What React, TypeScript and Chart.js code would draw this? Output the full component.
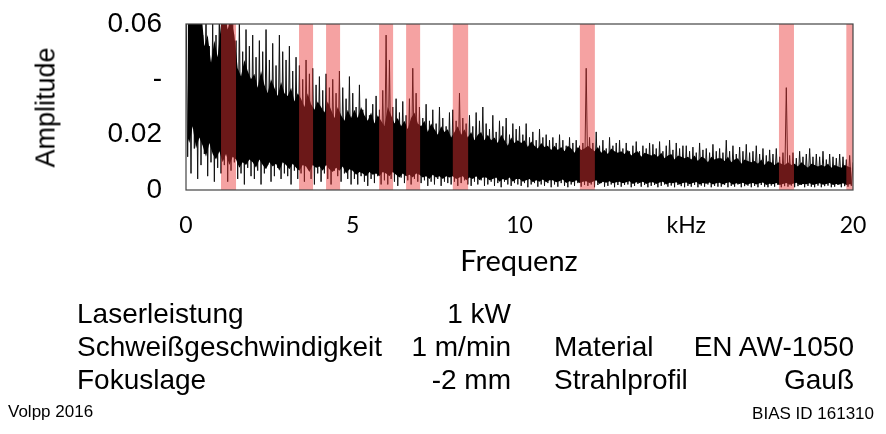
import React, { useEffect, useRef } from "react";
import { Chart, registerables } from "chart.js";

Chart.register(...registerables);

// ---------- data ----------
// axis ticks
const yTickValues = [0, 0.02, 0.04, 0.06];
const yTickLabels = ["0", "0.02", "-", "0.06"];
const xTickValues = [0, 5, 10, 15, 20];
const xTickLabels = ["0", "5", "10", "kHz", "20"];

const ampUnit = 1e-4; // all amplitude arrays below are in units of 1e-4
const sampleStepKHz = 0.1;

// upper spike tips, at k * 0.1 kHz, k = 0..200
const peakAmp = [
  720, 650, 700, 610, 680, 560, 640, 520, 600, 560,
  660, 580, 700, 600, 640, 540, 620, 500, 580, 520,
  560, 480, 540, 500, 580, 470, 530, 450, 560, 500,
  470, 520, 430, 480, 450, 400, 470, 420, 440, 380,
  410, 360, 420, 370, 400, 350, 430, 370, 330, 410,
  350, 300, 380, 290, 330, 270, 310, 340, 290, 360,
  560, 470, 300, 330, 280, 320, 270, 330, 440, 350,
  300, 260, 310, 250, 290, 240, 300, 260, 230, 280,
  290, 250, 350, 260, 240, 270, 230, 280, 250, 300,
  240, 220, 270, 210, 250, 230, 260, 200, 240, 220,
  230, 200, 240, 190, 210, 180, 220, 190, 200, 180,
  190, 170, 200, 180, 160, 190, 170, 180, 160, 170,
  440, 190, 170, 210, 160, 180, 150, 190, 160, 170,
  180, 150, 170, 140, 160, 175, 140, 160, 150, 170,
  165, 150, 175, 140, 160, 180, 145, 170, 150, 160,
  160, 140, 155, 135, 170, 145, 150, 135, 165, 140,
  150, 135, 180, 140, 160, 130, 155, 140, 165, 135,
  140, 160, 130, 150, 125, 145, 130, 150, 120, 135,
  370, 125, 135, 115, 140, 120, 130, 150, 120, 130,
  120, 140, 110, 130, 120, 115, 130, 120, 110, 125,
  100,
];
// lower spike tips, at k * 0.1 + 0.05 kHz, k = 0..199
const troughAmp = [
  120, 60, 150, 40, 90, 130, 50, 100, 30, 80,
  60, 90, 30, 70, 100, 40, 60, 20, 80, 50,
  40, 70, 20, 60, 90, 30, 50, 80, 40, 60,
  50, 20, 70, 40, 60, 30, 80, 40, 20, 60,
  30, 60, 40, 20, 70, 50, 30, 60, 40, 20,
  40, 20, 50, 30, 15, 40, 25, 50, 20, 35,
  20, 40, 30, 15, 45, 25, 35, 20, 40, 30,
  25, 35, 15, 30, 20, 40, 15, 30, 25, 20,
  30, 15, 25, 35, 20, 15, 30, 20, 35, 15,
  20, 30, 15, 25, 10, 30, 20, 15, 25, 20,
  15, 25, 10, 20, 25, 12, 20, 15, 25, 10,
  20, 12, 25, 15, 10, 20, 15, 25, 12, 18,
  15, 20, 10, 18, 25, 12, 15, 20, 10, 18,
  12, 18, 20, 10, 15, 22, 12, 18, 10, 15,
  18, 10, 15, 20, 12, 16, 10, 18, 14, 10,
  15, 12, 18, 10, 16, 12, 20, 10, 15, 12,
  12, 18, 10, 15, 12, 20, 10, 14, 16, 10,
  15, 10, 18, 12, 10, 16, 12, 18, 10, 14,
  12, 16, 10, 14, 18, 10, 15, 12, 10, 16,
  10, 14, 16, 10, 12, 18, 10, 14, 12, 15,
];

// dense (solid black) part: upper edge at k * 0.1 + 0.05 kHz, k = 0..199
const denseTop = [
  680, 640, 700, 620, 660, 520, 560, 460, 540, 480,
  600, 640, 580, 620, 560, 440, 410, 470, 430, 400,
  420, 370, 430, 380, 350, 400, 370, 340, 390, 350,
  340, 370, 320, 350, 330, 300, 350, 310, 290, 320,
  300, 280, 320, 290, 260, 300, 270, 250, 290, 260,
  290, 260, 300, 270, 250, 280, 240, 270, 250, 230,
  300, 270, 240, 260, 230, 250, 220, 260, 280, 240,
  230, 250, 210, 240, 220, 200, 230, 210, 220, 190,
  210, 230, 200, 220, 190, 210, 180, 200, 210, 180,
  200, 180, 190, 170, 200, 180, 160, 190, 170, 180,
  170, 180, 155, 175, 160, 150, 170, 155, 160, 145,
  160, 145, 155, 140, 160, 150, 135, 155, 145, 150,
  160, 150, 140, 155, 135, 145, 130, 150, 140, 135,
  140, 130, 145, 125, 135, 140, 120, 135, 130, 125,
  130, 120, 135, 115, 125, 130, 110, 125, 120, 115,
  120, 110, 125, 105, 120, 115, 100, 120, 110, 115,
  115, 105, 120, 100, 110, 115, 95, 110, 105, 100,
  105, 95, 110, 90, 105, 100, 90, 100, 95, 90,
  100, 90, 95, 85, 100, 90, 80, 95, 90, 85,
  90, 85, 95, 80, 90, 85, 80, 90, 85, 80,
];
// dense part: lower edge at k * 0.1 kHz, k = 0..200
const denseBottom = [
  210, 170, 230, 150, 190, 160, 120, 170, 130, 110,
  140, 100, 130, 90, 120, 110, 80, 100, 90, 110,
  100, 80, 110, 90, 75, 100, 85, 95, 70, 100,
  90, 75, 95, 80, 70, 90, 85, 65, 90, 80,
  85, 70, 90, 75, 65, 80, 70, 85, 60, 75,
  70, 55, 65, 60, 50, 65, 55, 60, 50, 65,
  60, 50, 65, 55, 45, 60, 50, 55, 45, 60,
  55, 45, 50, 40, 55, 45, 50, 40, 50, 45,
  50, 40, 45, 50, 35, 45, 40, 50, 35, 45,
  45, 35, 40, 45, 30, 40, 35, 45, 30, 40,
  40, 30, 35, 40, 28, 35, 30, 38, 28, 35,
  35, 28, 32, 38, 25, 32, 28, 35, 25, 30,
  32, 25, 30, 35, 22, 30, 26, 32, 24, 28,
  30, 24, 28, 32, 22, 28, 25, 30, 22, 27,
  28, 22, 27, 30, 20, 26, 24, 28, 20, 25,
  27, 21, 25, 29, 20, 25, 23, 27, 20, 24,
  26, 20, 25, 28, 19, 24, 22, 26, 19, 23,
  25, 20, 24, 27, 18, 23, 21, 25, 18, 22,
  25, 19, 23, 26, 18, 22, 21, 24, 18, 22,
  24, 19, 22, 25, 18, 22, 20, 24, 18, 21,
  20,
];

// highlighted frequency bands (kHz)
const bandStart = [1.05, 3.39, 4.2, 5.79, 6.6, 8.0, 11.81, 17.78, 19.8];
const bandEnd = [1.5, 3.81, 4.62, 6.21, 7.02, 8.46, 12.26, 18.23, 20.0];

// text block
const paramLabels = ["Laserleistung", "Schweißgeschwindigkeit", "Fokuslage"];
const paramValues = ["1 kW", "1 m/min", "-2 mm"];
const materialLabels = ["Material", "Strahlprofil"];
const materialValues = ["EN AW-1050", "Gauß"];
const yTitle = "Amplitude";
const xTitle = "Frequenz";
const sourceLeft = "Volpp 2016";
const sourceRight = "BIAS ID 161310";

// ---------- chart ----------
const W = 886;
const H = 434;
const ARIAL = "'Liberation Sans', Arial, sans-serif";
const CAL = "Lato, 'Liberation Sans', sans-serif";

function buildSpikes() {
  const pts: { x: number; y: number }[] = [];
  for (let k = 0; k < peakAmp.length; k++) {
    pts.push({ x: k * sampleStepKHz, y: peakAmp[k] * ampUnit });
    if (k < troughAmp.length) {
      pts.push({ x: k * sampleStepKHz + sampleStepKHz / 2, y: troughAmp[k] * ampUnit });
    }
  }
  return pts;
}

function buildSeries(arr: number[], offsetKHz: number) {
  return arr.map((v, k) => ({ x: k * sampleStepKHz + offsetKHz, y: v * ampUnit }));
}

const bandPlugin = {
  id: "bands",
  afterDatasetsDraw(chart: any) {
    const { ctx, chartArea, scales } = chart;
    const xs = scales.x;
    ctx.save();
    ctx.fillStyle = "rgba(233, 53, 53, 0.46)";
    for (let i = 0; i < bandStart.length; i++) {
      const x1 = xs.getPixelForValue(bandStart[i]);
      const x2 = xs.getPixelForValue(bandEnd[i]);
      ctx.fillRect(x1, chartArea.top, x2 - x1, chartArea.bottom - chartArea.top);
    }
    ctx.strokeStyle = "#444";
    ctx.lineWidth = 1.2;
    ctx.strokeRect(
      chartArea.left,
      chartArea.top,
      chartArea.right - chartArea.left,
      chartArea.bottom - chartArea.top
    );
    ctx.restore();
  },
};

function Txt(props: {
  left?: number;
  right?: number;
  top: number;
  size: number;
  family: string;
  children: React.ReactNode;
}) {
  const style: React.CSSProperties = {
    position: "absolute",
    top: props.top,
    fontSize: props.size,
    lineHeight: `${props.size}px`,
    fontFamily: props.family,
    color: "#000",
    whiteSpace: "nowrap",
  };
  if (props.left !== undefined) style.left = props.left;
  if (props.right !== undefined) style.right = W - props.right;
  return <div style={style}>{props.children}</div>;
}

export default function App() {
  const ref = useRef<HTMLCanvasElement>(null);

  useEffect(() => {
    if (!ref.current) return;
    const chart = new Chart(ref.current, {
      type: "line",
      data: {
        datasets: [
          {
            data: buildSeries(denseBottom, 0),
            borderWidth: 0,
            borderColor: "rgba(0,0,0,0)",
            pointRadius: 0,
            fill: false,
            clip: 0 as any,
          },
          {
            data: buildSeries(denseTop, sampleStepKHz / 2),
            borderWidth: 0,
            borderColor: "rgba(0,0,0,0)",
            backgroundColor: "#000",
            pointRadius: 0,
            fill: "-1",
            clip: 0 as any,
          },
          {
            data: buildSpikes(),
            borderColor: "#111",
            borderWidth: 1,
            pointRadius: 0,
            tension: 0,
            fill: false,
            clip: 0 as any,
          },
        ],
      },
      options: {
        responsive: false,
        animation: false,
        parsing: false as any,
        normalized: true,
        layout: { padding: { left: 0, right: 33, top: 24, bottom: 0 } },
        plugins: { legend: { display: false }, tooltip: { enabled: false } },
        scales: {
          x: {
            type: "linear",
            min: 0,
            max: 20,
            afterFit: (s: any) => {
              s.height = 244;
              s.paddingLeft = 0;
              s.paddingRight = 0;
            },
            afterBuildTicks: (s: any) => {
              s.ticks = xTickValues.map((v) => ({ value: v }));
            },
            grid: { display: false, drawTicks: false },
            border: { display: false },
            ticks: {
              autoSkip: false,
              maxRotation: 0,
              padding: 22,
              color: "#000",
              font: { family: CAL, size: 23 },
              callback: (_v: any, i: number) => xTickLabels[i],
            },
          },
          y: {
            type: "linear",
            min: 0,
            max: 0.06,
            afterFit: (s: any) => {
              s.width = 186;
              s.paddingTop = 0;
              s.paddingBottom = 0;
            },
            afterBuildTicks: (s: any) => {
              s.ticks = yTickValues.map((v) => ({ value: v }));
            },
            grid: { display: false, drawTicks: false },
            border: { display: false },
            ticks: {
              autoSkip: false,
              padding: 24,
              color: "#000",
              font: { family: ARIAL, size: 28 },
              callback: (_v: any, i: number) => yTickLabels[i],
            },
          },
        },
      },
      plugins: [bandPlugin],
    });
    return () => chart.destroy();
  }, []);

  const rowGap = 33;
  const rowTop = 300;
  return (
    <div
      style={{
        position: "absolute",
        left: 0,
        top: 0,
        width: W,
        height: H,
        background: "#fff",
        overflow: "hidden",
      }}
    >
      <canvas
        ref={ref}
        width={W}
        height={H}
        style={{ position: "absolute", left: 0, top: 0, width: W, height: H }}
      />
      <div
        style={{
          position: "absolute",
          left: 46 - 100,
          top: 107 - 13.5,
          width: 200,
          height: 27,
          lineHeight: "27px",
          fontSize: 27,
          fontFamily: ARIAL,
          textAlign: "center",
          transform: "rotate(-90deg)",
          transformOrigin: "center center",
          whiteSpace: "nowrap",
        }}
      >
        {yTitle}
      </div>
      <div
        style={{
          position: "absolute",
          left: 519 - 100,
          top: 245,
          width: 200,
          textAlign: "center",
          fontSize: 29,
          lineHeight: "29px",
          fontFamily: CAL,
          whiteSpace: "nowrap",
        }}
      >
        {xTitle}
      </div>
      {paramLabels.map((t, i) => (
        <Txt key={"pl" + i} left={77} top={rowTop + i * rowGap} size={28} family={ARIAL}>
          {t}
        </Txt>
      ))}
      {paramValues.map((t, i) => (
        <Txt key={"pv" + i} right={511} top={rowTop + i * rowGap} size={28} family={ARIAL}>
          {t}
        </Txt>
      ))}
      {materialLabels.map((t, i) => (
        <Txt key={"ml" + i} left={554} top={rowTop + (i + 1) * rowGap} size={28} family={ARIAL}>
          {t}
        </Txt>
      ))}
      {materialValues.map((t, i) => (
        <Txt key={"mv" + i} right={854} top={rowTop + (i + 1) * rowGap} size={28} family={ARIAL}>
          {t}
        </Txt>
      ))}
      <Txt left={8} top={403} size={17} family={ARIAL}>
        {sourceLeft}
      </Txt>
      <Txt right={874} top={405} size={17} family={ARIAL}>
        {sourceRight}
      </Txt>
    </div>
  );
}
